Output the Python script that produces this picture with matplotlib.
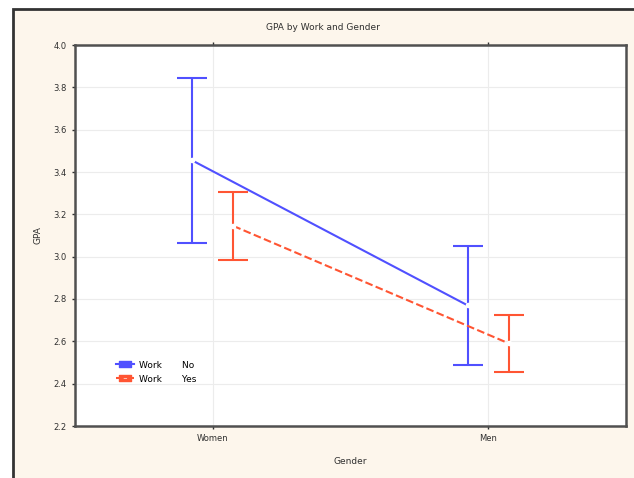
import matplotlib.pyplot as plt
from matplotlib.patches import Rectangle
from matplotlib.lines import Line2D
import numpy as np

# group means and error bar half-widths
genders = ['Women', 'Men']
gpa_work_no = [3.455, 2.77]
err_work_no = [0.39, 0.28]
gpa_work_yes = [3.145, 2.59]
err_work_yes = [0.16, 0.135]

blue = '#5050ff'
red = '#ff5533'

fig = plt.figure(figsize=(6.34, 4.78), dpi=100, facecolor='white')

# cream panel with dark frame behind everything
fig.patches.append(Rectangle((13 / 634, -0.1), 1.0, (478 - 9) / 478 + 0.1,
                             transform=fig.transFigure, facecolor='#fdf6ec',
                             edgecolor='#333333', linewidth=2, zorder=-1))

ax = fig.add_axes([75 / 634, 1 - 426 / 478, (626 - 75) / 634, (426 - 45) / 478])
ax.set_facecolor('white')

x = np.arange(len(genders))
off = 0.075

ax.errorbar(x - off, gpa_work_no, yerr=err_work_no, color=blue, lw=1.5,
            capsize=11, capthick=1.5, marker='o', ms=3, mfc='white',
            mec='white', zorder=3)
h_yes = ax.errorbar(x + off, gpa_work_yes, yerr=err_work_yes, color=red, lw=1.5,
                    ls='--', capsize=11, capthick=1.5, marker='o', ms=3,
                    mfc='white', mec='white', zorder=3)
h_yes[2][0].set_linestyle('-')

ax.set_xlim(-0.5, 1.5)
ax.set_ylim(2.2, 4.0)
ax.set_xticks(x)
ax.set_xticklabels(genders)
ax.set_yticks(np.arange(2.2, 4.01, 0.2))
ax.set_yticklabels([f'{v:.1f}' for v in np.arange(2.2, 4.01, 0.2)])
ax.grid(True, color='#ececec', lw=0.8)
ax.set_axisbelow(True)

for s in ax.spines.values():
    s.set_color('#505050')
    s.set_linewidth(1.8)
ax.tick_params(axis='both', labelsize=6, colors='#303030', length=2, width=1,
               pad=4, top=True, direction='out')

ax.set_xlabel('Gender', fontsize=6.5, color='#303030', labelpad=10)
ax.set_ylabel('GPA', fontsize=6.5, color='#303030', labelpad=8)
fig.text(323 / 634, 1 - 27 / 478, 'GPA by Work and Gender', ha='center',
         va='center', fontsize=6.5, color='#303030')

# small legend keys: line with cap ticks
keys = [Line2D([], [], color=blue, lw=1.5, marker='$=$', ms=8),
        Line2D([], [], color=red, lw=1.5, ls='--', marker='$=$', ms=8)]
ax.legend(keys, ['Work       No', 'Work       Yes'], loc='lower left',
          bbox_to_anchor=(0.06, 0.09), frameon=False, fontsize=6.5,
          handlelength=2.0, handletextpad=0.5, labelspacing=0.55)

fig.savefig('out.png', dpi=100, facecolor=fig.get_facecolor())
